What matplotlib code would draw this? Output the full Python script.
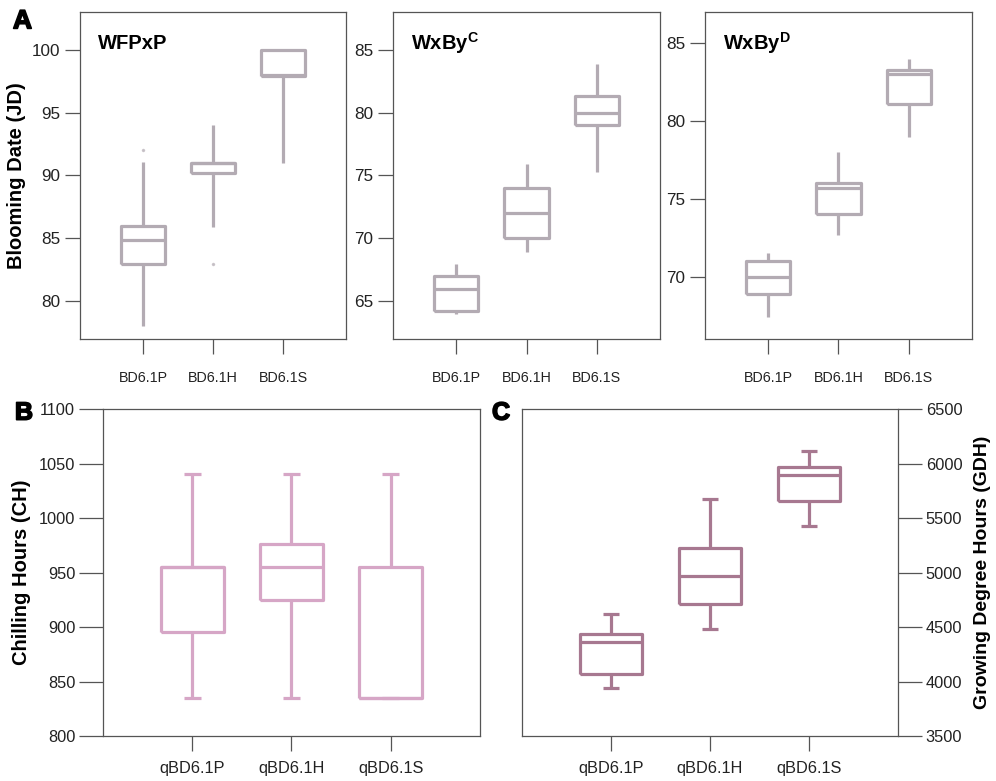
import matplotlib
matplotlib.use('Agg')
import matplotlib.pyplot as plt
import matplotlib.patheffects as pe

plt.rcParams['font.family'] = ['Liberation Sans', 'DejaVu Sans']
plt.rcParams['mathtext.fontset'] = 'custom'
plt.rcParams['mathtext.bf'] = 'Liberation Sans:bold'
plt.rcParams['mathtext.rm'] = 'Liberation Sans'

# --- data ---
bd_labels = ['BD6.1P', 'BD6.1H', 'BD6.1S']
qbd_labels = ['qBD6.1P', 'qBD6.1H', 'qBD6.1S']

# WFPxP: whislo, q1, med, q3, whishi
wfp_whislo = [78.0, 85.9, 91.0]
wfp_q1 = [83.0, 90.2, 97.9]
wfp_med = [84.9, 91.0, 98.0]
wfp_q3 = [86.0, 91.0, 100.0]
wfp_whishi = [91.1, 94.0, 100.0]
wfp_fliers = [[92.0], [83.0], []]

# WxBy C
wbc_whislo = [64.0, 68.9, 75.3]
wbc_q1 = [64.2, 70.0, 79.0]
wbc_med = [66.0, 72.0, 80.0]
wbc_q3 = [67.0, 74.0, 81.3]
wbc_whishi = [68.0, 75.9, 83.9]

# WxBy D
wbd_whislo = [67.4, 72.7, 79.0]
wbd_q1 = [68.9, 74.0, 81.1]
wbd_med = [70.0, 75.7, 83.0]
wbd_q3 = [71.0, 76.0, 83.3]
wbd_whishi = [71.5, 78.0, 84.0]

# Chilling hours
ch_whislo = [835, 835, 835]
ch_q1 = [895, 925, 835]
ch_med = [955, 955, 835]
ch_q3 = [955, 976, 955]
ch_whishi = [1040, 1040, 1040]

# Growing degree hours
gdh_whislo = [3938, 4482, 5430]
gdh_q1 = [4066, 4711, 5656]
gdh_med = [4365, 4971, 5895]
gdh_q3 = [4436, 5228, 5971]
gdh_whishi = [4617, 5671, 6118]


def make_stats(lo, q1, med, q3, hi, fliers=None):
    out = []
    for i in range(len(lo)):
        out.append({'whislo': lo[i], 'q1': q1[i], 'med': med[i], 'q3': q3[i],
                    'whishi': hi[i], 'fliers': fliers[i] if fliers else []})
    return out


def style_axes(ax, ylen, xlen, ysize, xsize, xpad):
    for s in ax.spines.values():
        s.set_color('#555555')
        s.set_linewidth(0.9)
    ax.tick_params(axis='y', length=ylen, width=0.9, color='#555555',
                   labelsize=ysize, labelcolor='#222222', pad=3)
    ax.tick_params(axis='x', length=xlen, width=0.9, color='#555555',
                   labelsize=xsize, labelcolor='#222222', pad=xpad)
    ax.set_xlim(0.1, 3.9)


def draw(ax, stats, color, caps):
    lp = dict(color=color, linewidth=2.3, solid_capstyle='butt')
    ax.bxp(stats, positions=[1, 2, 3], widths=0.63, showcaps=caps,
           boxprops=lp, whiskerprops=lp, capprops=lp, medianprops=lp,
           capwidths=0.17,
           flierprops=dict(marker='o', markersize=1.5, markerfacecolor=color,
                           markeredgecolor=color, alpha=0.6))


fig = plt.figure(figsize=(9.96, 7.81), dpi=100)

grey = '#b3abb3'
pink = '#d6a6c6'
mauve = '#a77890'

ax1 = fig.add_axes([0.0803, 0.566, 0.2671, 0.4186])
ax2 = fig.add_axes([0.3946, 0.566, 0.2681, 0.4186])
ax3 = fig.add_axes([0.7078, 0.566, 0.2681, 0.4186])

draw(ax1, make_stats(wfp_whislo, wfp_q1, wfp_med, wfp_q3, wfp_whishi, wfp_fliers), grey, False)
draw(ax2, make_stats(wbc_whislo, wbc_q1, wbc_med, wbc_q3, wbc_whishi), grey, False)
draw(ax3, make_stats(wbd_whislo, wbd_q1, wbd_med, wbd_q3, wbd_whishi), grey, False)

ax1.set_ylim(77, 103)
ax1.set_yticks([80, 85, 90, 95, 100])
ax2.set_ylim(62, 88)
ax2.set_yticks([65, 70, 75, 80, 85])
ax3.set_ylim(66, 87)
ax3.set_yticks([70, 75, 80, 85])

titles = ['WFPxP', r'WxBy$^{\mathbf{C}}$', r'WxBy$^{\mathbf{D}}$']
for ax, t in zip([ax1, ax2, ax3], titles):
    style_axes(ax, 11, 11, 12.3, 10.3, 12)
    ax.set_xticks([1, 2, 3])
    ax.set_xticklabels(bd_labels)
    ax.text(0.066, 0.905, t, transform=ax.transAxes, fontsize=14.5,
            fontweight='bold', va='center', ha='left')

ax1.set_ylabel('Blooming Date (JD)', fontsize=14.5, fontweight='bold', labelpad=4)

axb = fig.add_axes([0.1034, 0.0576, 0.3785, 0.4187])
axc = fig.add_axes([0.5241, 0.0576, 0.3775, 0.4187])

draw(axb, make_stats(ch_whislo, ch_q1, ch_med, ch_q3, ch_whishi), pink, True)
draw(axc, make_stats(gdh_whislo, gdh_q1, gdh_med, gdh_q3, gdh_whishi), mauve, True)

axb.set_ylim(800, 1100)
axb.set_yticks(range(800, 1101, 50))
axc.set_ylim(3500, 6500)
axc.set_yticks(range(3500, 6501, 500))
axc.yaxis.tick_right()
axc.yaxis.set_label_position('right')

for ax in [axb, axc]:
    style_axes(ax, 17, 11, 11.8, 11.8, 7)
    ax.set_xticks([1, 2, 3])
    ax.set_xticklabels(qbd_labels)

axb.set_ylabel('Chilling Hours (CH)', fontsize=14.5, fontweight='bold', labelpad=6)
axc.set_ylabel('Growing Degree Hours (GDH)', fontsize=14, fontweight='bold', labelpad=8)

stroke = [pe.withStroke(linewidth=1.2, foreground='black')]
fig.text(0.013, 0.988, 'A', fontsize=19, fontweight='bold', va='top', ha='left',
         path_effects=stroke)
fig.text(0.015, 0.487, 'B', fontsize=18, fontweight='bold', va='top', ha='left',
         path_effects=stroke)
fig.text(0.494, 0.487, 'C', fontsize=18, fontweight='bold', va='top', ha='left',
         path_effects=stroke)

fig.savefig('out.png', dpi=100)
